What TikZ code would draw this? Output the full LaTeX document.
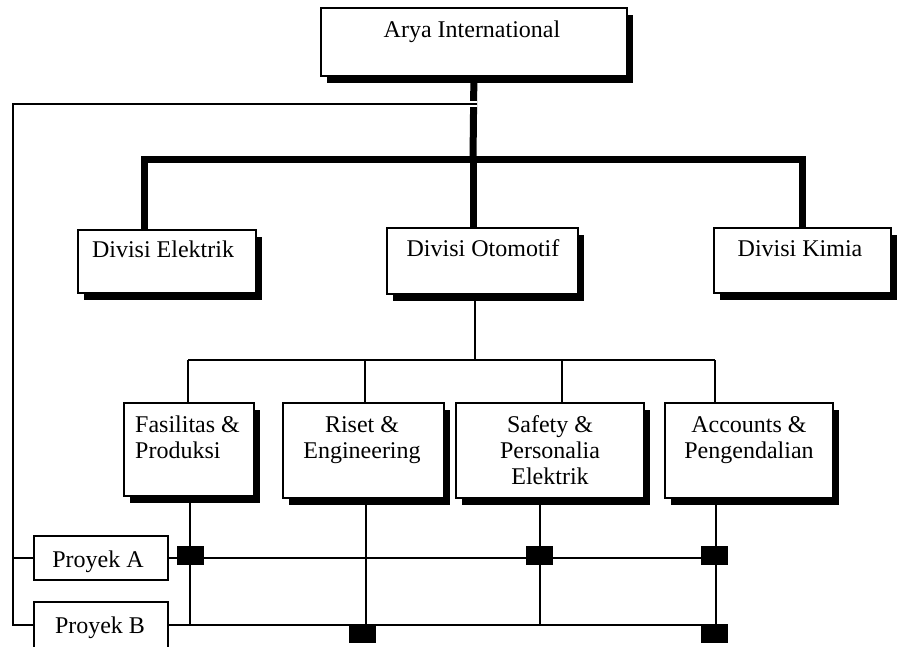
\documentclass[tikz,border=0pt]{standalone}
\usepackage{fontspec}
\setmainfont{Liberation Serif}
\usetikzlibrary{shadows}
\begin{document}
\begin{tikzpicture}[x=1pt,y=-1pt,
  box/.style={draw=black, fill=white, line width=1.8pt, inner sep=0pt, anchor=north west,
    drop shadow={shadow xshift=6pt, shadow yshift=-7pt, fill=black, opacity=1}},
  plainbox/.style={draw=black, fill=white, line width=1.8pt, inner sep=0pt, anchor=north west},
  lbl/.style={font=\fontsize{24}{26}\selectfont, inner sep=0pt, anchor=base, align=center},
  heavy/.style={line width=7pt},
  wire/.style={line width=2pt},
  gapwire/.style={wire, preaction={draw=white, line width=6pt}},
  pin/.style={fill=black, minimum width=27pt, minimum height=19pt, inner sep=0pt}
]
\useasboundingbox (0,0) rectangle (897,647);
\clip (0,0) rectangle (897,647);

% ---- boxes ----
\node[box, minimum width=306pt, minimum height=68pt] (arya) at (320,7) {};
\node[box, minimum width=178pt, minimum height=63pt] (elek) at (77,229) {};
\node[box, minimum width=191pt, minimum height=66pt] (oto) at (386,227) {};
\node[box, minimum width=177pt, minimum height=65pt] (kim) at (713,227) {};
\node[box, minimum width=130pt, minimum height=93pt] (fas) at (123,402) {};
\node[box, minimum width=161pt, minimum height=95pt] (ris) at (282,402) {};
\node[box, minimum width=188pt, minimum height=95pt] (saf) at (455,402) {};
\node[box, minimum width=168pt, minimum height=95pt] (acc) at (664,402) {};
\node[plainbox, minimum width=134pt, minimum height=44pt] (pa) at (33,535) {};
\node[plainbox, minimum width=134pt, minimum height=60pt] (pb) at (33,601) {};

% ---- labels (base anchor sits on the last line of each label) ----
\node[lbl] (l-arya) at (472,38) {Arya International};
\node[lbl] (l-elek) at (163,258) {Divisi Elektrik};
\node[lbl] (l-oto) at (483,257) {Divisi Otomotif};
\node[lbl] (l-kim) at (800,257) {Divisi Kimia};
\node[lbl, anchor=base west, align=left] (l-fas) at (135,458) {Fasilitas \&\\Produksi};
\node[lbl] (l-ris) at (362,458) {Riset \&\\Engineering};
\node[lbl] (l-saf) at (550,484) {Safety \&\\Personalia\\Elektrik};
\node[lbl] (l-acc) at (749,458) {Accounts \&\\Pengendalian};
\node[lbl] (l-pa) at (98,567) {Proyek A};
\node[lbl] (l-pb) at (100,633) {Proyek B};

% ---- junction points ----
\coordinate (hub) at (473,160);
\coordinate (dropE) at (144,160);
\coordinate (dropK) at (802,160);
\coordinate (split) at (477,104);
\coordinate (busTop) at (13,104);
\coordinate (busBot) at (13,625);
\coordinate (sub) at (475,360);
\coordinate (dF) at (188,360);
\coordinate (dR) at (365,360);
\coordinate (dS) at (562,360);
\coordinate (dA) at (715,360);
\coordinate (vF) at (190,625);
\coordinate (vR) at (366,625);
\coordinate (vS) at (540,625);
\coordinate (vA) at (716,625);
\coordinate (endA) at (725,558);
\coordinate (endB) at (725,625);

% ---- main line of command ----
\draw[heavy] (arya.south) -- (hub);
\draw[heavy] (dropE |- elek.north) -- (dropE) -- (dropK) -- (dropK |- kim.north);
\draw[heavy] (hub) -- (hub |- oto.north);

% ---- departments under Divisi Otomotif ----
\draw[wire] (sub |- oto.south) -- (sub);
\draw[wire] (dF) -- (dA);
\foreach \d/\b in {dF/fas, dR/ris, dS/saf, dA/acc}
  \draw[wire] (\d) -- (\d |- \b.north);
\foreach \v/\b in {vF/fas, vR/ris, vS/saf, vA/acc}
  \draw[wire] (\v |- \b.south) -- (\v);

% ---- project lines ----
\draw[gapwire] (split) -- (busTop) -- (busBot) -- (busBot -| pb.west);
\draw[wire] (busTop |- pa.west) -- (pa.west);
\draw[wire] (pa.east |- endA) -- (endA);
\draw[wire] (pb.east |- endB) -- (endB);

% ---- project assignments ----
\node[pin] (pA1) at (190,555) {};
\node[pin] (pA2) at (539,555) {};
\node[pin] (pA3) at (714,555) {};
\node[pin] (pB1) at (362,633) {};
\node[pin] (pB2) at (714,633) {};
\end{tikzpicture}
\end{document}
